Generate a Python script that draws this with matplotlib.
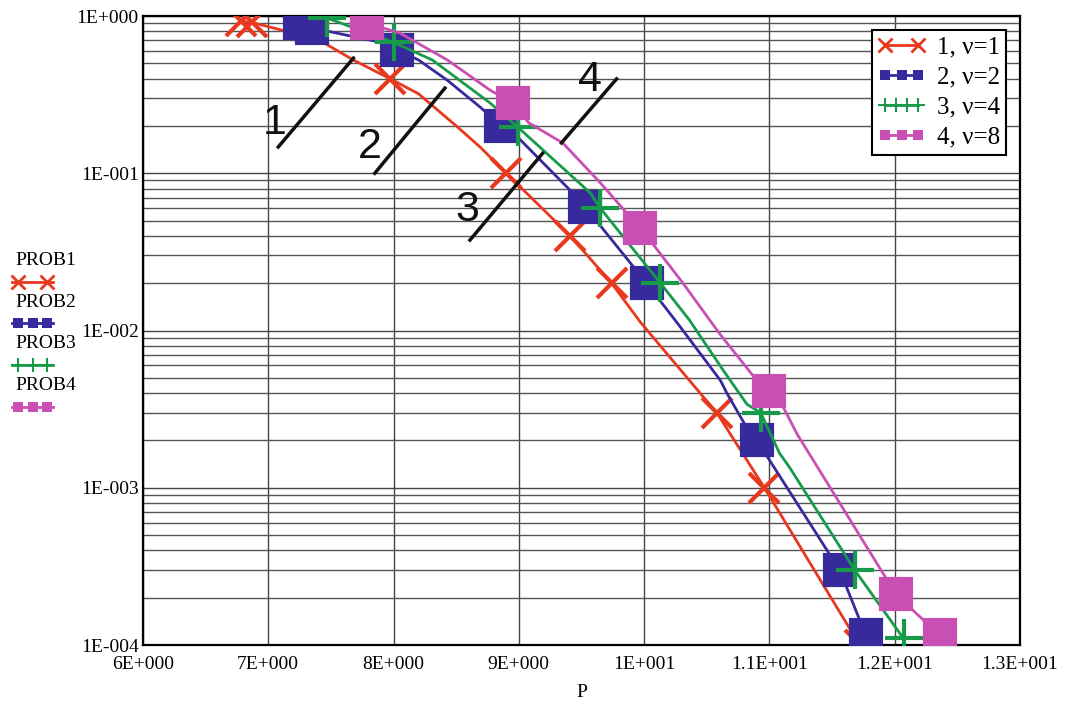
import numpy as np
import matplotlib.pyplot as plt
from matplotlib.lines import Line2D
from matplotlib.legend_handler import HandlerLine2D

# data (P, probability)
p1 = [6.78, 6.87, 7.17, 7.41, 7.68, 7.97, 8.20, 8.51, 8.69, 8.90, 9.41, 9.74,
      9.97, 10.47, 10.58, 10.96, 11.72]
prob1 = [0.93, 0.91, 0.79, 0.70, 0.525, 0.40, 0.32, 0.197, 0.147, 0.10, 0.040, 0.020,
         0.0113, 0.0038, 0.003, 0.001, 0.0001]
mk1 = [0, 1, 5, 9, 10, 11, 14, 15, 16]

p2 = [7.25, 7.35, 7.90, 8.03, 8.20, 8.43, 8.69, 8.86, 8.99, 9.43, 9.53, 10.02,
      10.29, 10.61, 10.66, 10.82, 10.90, 11.56, 11.77]
prob2 = [0.90, 0.84, 0.68, 0.61, 0.525, 0.39, 0.264, 0.20, 0.17, 0.075, 0.061, 0.020,
         0.0105, 0.0048, 0.0040, 0.0024, 0.002, 0.0003, 0.000115]
mk2 = [0, 1, 3, 7, 10, 11, 16, 17, 18]

p3 = [7.47, 8.00, 8.31, 8.77, 8.99, 9.57, 9.65, 10.13, 10.36, 10.63, 10.82, 10.93,
      11.08, 11.16, 11.68, 12.07]
prob3 = [0.97, 0.68, 0.525, 0.28, 0.197, 0.075, 0.060, 0.020, 0.0117, 0.0056, 0.0034, 0.003,
         0.00166, 0.00135, 0.0003, 0.00011]
mk3 = [0, 1, 4, 6, 7, 11, 14, 15]

p4 = [7.79, 8.05, 8.43, 8.77, 8.95, 9.08, 9.35, 9.65, 9.86, 9.97, 10.31, 10.60,
      10.90, 11.00, 11.11, 11.22, 12.01, 12.36]
prob4 = [0.90, 0.78, 0.525, 0.338, 0.28, 0.209, 0.156, 0.087, 0.056, 0.045, 0.020, 0.0096,
         0.0048, 0.0041, 0.00326, 0.0022, 0.00021, 0.000115]
mk4 = [0, 4, 9, 13, 16, 17]

labels = ['1, \u03bd=1', '2, \u03bd=2', '3, \u03bd=4', '4, \u03bd=8']
side_labels = ['PROB1', 'PROB2', 'PROB3', 'PROB4']
colors = ['#e8381e', '#372a9c', '#179a4a', '#c94fb5']

xticks = [6, 7, 8, 9, 10, 11, 12, 13]
xticklabels = ['6E+000', '7E+000', '8E+000', '9E+000', '1E+001', '1.1E+001', '1.2E+001', '1.3E+001']
yticks = [1e-4, 1e-3, 1e-2, 1e-1, 1]
yticklabels = ['1E-004', '1E-003', '1E-002', '1E-001', '1E+000']

# the numbered leader lines: (label, label pos, line start, line end) in data units
notes = [
    ('1', (7.05, 0.209), (7.08, 0.147), (7.68, 0.54)),
    ('2', (7.81, 0.147), (7.85, 0.100), (8.41, 0.348)),
    ('3', (8.59, 0.058), (8.61, 0.0376), (9.19, 0.134)),
    ('4', (9.57, 0.39), (9.34, 0.156), (9.78, 0.398)),
]

plt.rcParams['font.family'] = ['Liberation Serif', 'DejaVu Serif']

fig = plt.figure(figsize=(10.7, 7.06), dpi=100)
ax = fig.add_axes([0.1336, 0.0864, 0.8197, 0.8909])

series = [(p1, prob1, mk1, 'x'), (p2, prob2, mk2, 's'), (p3, prob3, mk3, '+'), (p4, prob4, mk4, 's')]
for (px, py, mk, m), c in zip(series, colors):
    ms = 22 if m != '+' else 27
    ax.plot(px, py, color=c, lw=2, marker=m, markevery=mk, ms=ms,
            mew=3, mec=c, mfc=c, zorder=3)

ax.set_yscale('log')
ax.set_xlim(6, 13)
ax.set_ylim(1e-4, 1)
ax.set_xticks(xticks)
ax.set_xticklabels(xticklabels, fontsize=14)
ax.set_yticks(yticks)
ax.set_yticklabels(yticklabels, fontsize=14)
ax.tick_params(axis='y', which='both', length=0, pad=3)
ax.tick_params(axis='x', which='both', length=0, pad=8)
ax.grid(True, which='major', color='#444444', lw=1)
ax.grid(True, which='minor', axis='y', color='#555555', lw=1)
for s in ax.spines.values():
    s.set_linewidth(1.6)
ax.set_xlabel('P', fontsize=14, labelpad=8)

for txt, tpos, a, b in notes:
    ax.plot([a[0], b[0]], [a[1], b[1]], color='#111111', lw=2.5, zorder=4)
    ax.text(tpos[0], tpos[1], txt, fontsize=31, family='Liberation Sans',
            ha='center', va='center', color='#111111', zorder=4)

# legend inside the plot
handles = []
npts = []
for (px, py, mk, m), c in zip(series, colors):
    if m == 'x':
        h = Line2D([], [], color=c, lw=2, marker='x', ms=10, mew=2)
        npts.append(2)
    elif m == '+':
        h = Line2D([], [], color=c, lw=2, marker='+', ms=10, mew=1.5)
        npts.append(4)
    else:
        h = Line2D([], [], color=c, lw=2, marker='s', ms=7, mew=0)
        npts.append(3)
    handles.append(h)
hmap = {h: HandlerLine2D(numpoints=n) for h, n in zip(handles, npts)}
leg = ax.legend(handles, labels, handler_map=hmap, loc='upper right',
                bbox_to_anchor=(0.984, 0.978), borderaxespad=0, fontsize=18,
                frameon=True, fancybox=False, edgecolor='black', framealpha=1,
                handlelength=1.9, handletextpad=0.45, borderpad=0.25,
                labelspacing=0.3)
leg.get_frame().set_linewidth(1.5)

# side legend on the left
for i, (lab, h) in enumerate(zip(side_labels, handles)):
    ty = 1 - (261 + i * 41.5) / 706
    fig.text(15 / 1070, ty, lab, fontsize=14, va='center', ha='left')
    ly = ty - 21 / 706
    n = 2 if i == 0 else 3
    xs = np.linspace(18 / 1070, 47 / 1070, n)
    fig.add_artist(Line2D([12 / 1070, 53 / 1070], [ly, ly], color=h.get_color(), lw=2,
                          transform=fig.transFigure))
    fig.add_artist(Line2D(xs, [ly] * n, color=h.get_color(), lw=0,
                          marker=h.get_marker(), ms=h.get_markersize(),
                          mew=h.get_markeredgewidth(), transform=fig.transFigure))

fig.savefig('out.png', dpi=100, facecolor='white')
